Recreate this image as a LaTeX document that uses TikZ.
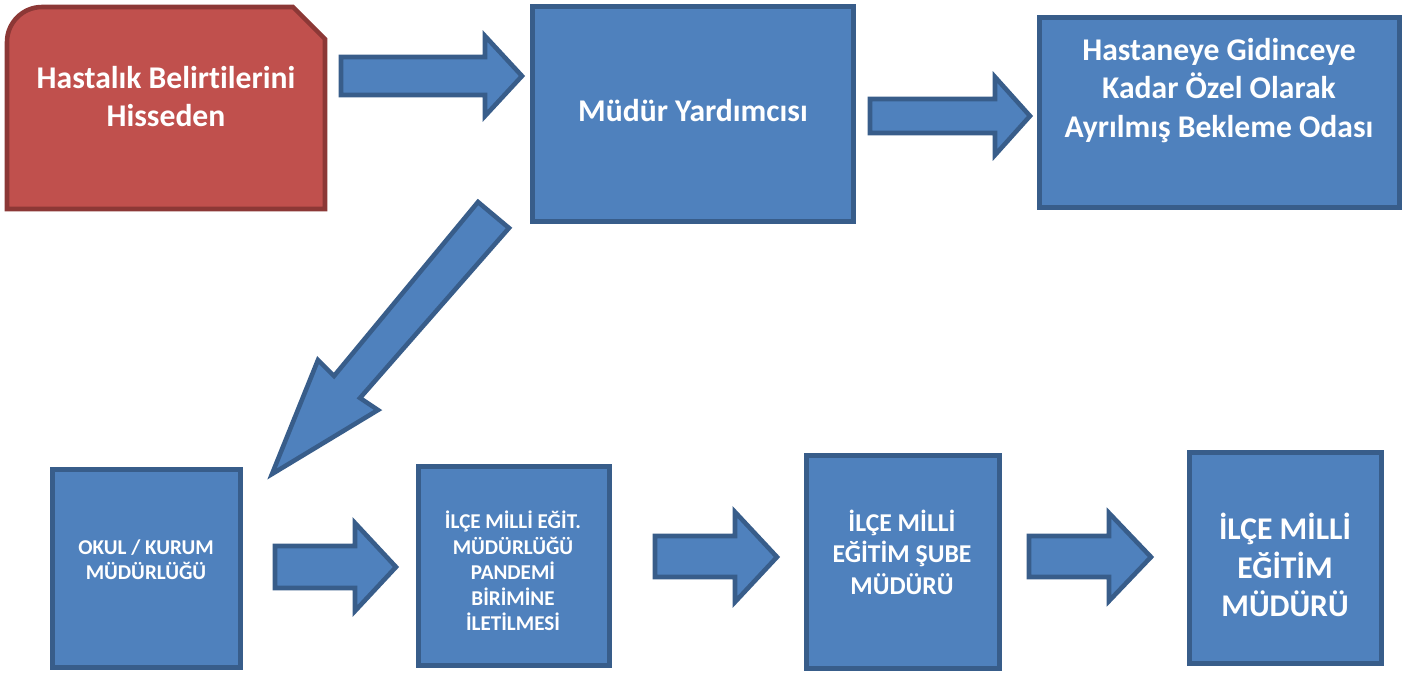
\documentclass[tikz,border=0pt]{standalone}
\usepackage{fontspec}
\setmainfont{Carlito}[Ligatures={NoCommon,NoContextual,NoRequired}]
\definecolor{boxfill}{HTML}{4F81BD}
\definecolor{boxline}{HTML}{385D8A}
\definecolor{redfill}{HTML}{C0504D}
\definecolor{redline}{HTML}{8C3836}
\begin{document}
\begin{tikzpicture}[x=0.02cm, y=-0.02cm,
    box/.style={rectangle, draw=boxline, fill=boxfill, line width=2.6pt},
    blockarrow/.style={draw=boxline, fill=boxfill, line width=2.6pt},
    txt/.style={text=white, align=center, inner sep=0pt},
    big/.style={txt, font=\fontsize{18}{21.8}\selectfont\bfseries},
    mid/.style={txt, font=\fontsize{14.6}{17.9}\selectfont\bfseries},
    small/.style={txt, font=\fontsize{12}{14.5}\selectfont\bfseries}]
    \useasboundingbox (0,0) rectangle (1412,673);
    % top row
    \draw[draw=redline, fill=redfill, line width=2.6pt] (7,209) -- (7,42) arc[start angle=180, end angle=90, radius=0.7cm] -- (293,7) -- (325,39) -- (325,209) -- cycle;
    \node[big] at (166,96.5) (belirti) {Hastalık Belirtilerini\\Hisseden};
    \node[box, minimum width=6.42cm, minimum height=4.3cm] at (693,114) (mudur) {};
    \node[big] at (693,111) (mudurtxt) {Müdür Yardımcısı};
    \node[box, minimum width=7.2cm, minimum height=3.8cm] at (1219.5,112.5) (oda) {};
    \node[big] at (1219,90.5) (odatxt) {Hastaneye Gidinceye\\Kadar Özel Olarak\\Ayrılmış Bekleme Odası};
    % bottom row
    \node[box, minimum width=3.76cm, minimum height=3.96cm] at (146.5,568.5) (okul) {};
    \node[small] at (146,559.5) (okultxt) {OKUL / KURUM\\MÜDÜRLÜĞÜ};
    \node[box, minimum width=3.82cm, minimum height=3.98cm] at (514,566) (pandemi) {};
    \node[small] at (513,571) (pandemitxt) {İLÇE MİLLİ EĞİT.\\MÜDÜRLÜĞÜ\\PANDEMİ\\BİRİMİNE\\İLETİLMESİ};
    \node[box, minimum width=3.86cm, minimum height=4.26cm] at (903,562) (sube) {};
    \node[mid] at (902,552) (subetxt) {İLÇE MİLLİ\\EĞİTİM ŞUBE\\MÜDÜRÜ};
    \node[box, minimum width=3.84cm, minimum height=4.22cm] at (1285.5,558) (ilce) {};
    \node[big] at (1285,565) (ilcetxt) {İLÇE MİLLİ\\EĞİTİM\\MÜDÜRÜ};
    % block arrows
    \draw[blockarrow] (341,57) -- (485,57) -- (485,36) -- (522,76) -- (485,116) -- (485,95) -- (341,95) -- cycle;
    \draw[blockarrow] (870,99) -- (995,99) -- (995,77) -- (1030,116) -- (995,155) -- (995,133) -- (870,133) -- cycle;
    \draw[blockarrow] (478,202) -- (334,376) -- (318,360) -- (272,474) -- (378,410) -- (360,398) -- (509,228) -- cycle;
    \draw[blockarrow] (275,546) -- (355,546) -- (355,523) -- (396,567) -- (355,611) -- (355,588) -- (275,588) -- cycle;
    \draw[blockarrow] (655,536) -- (735,536) -- (735,512) -- (777,557) -- (735,602) -- (735,577) -- (655,577) -- cycle;
    \draw[blockarrow] (1029,536) -- (1109,536) -- (1109,513) -- (1151,557) -- (1109,601) -- (1109,577) -- (1029,577) -- cycle;
\end{tikzpicture}
\end{document}
